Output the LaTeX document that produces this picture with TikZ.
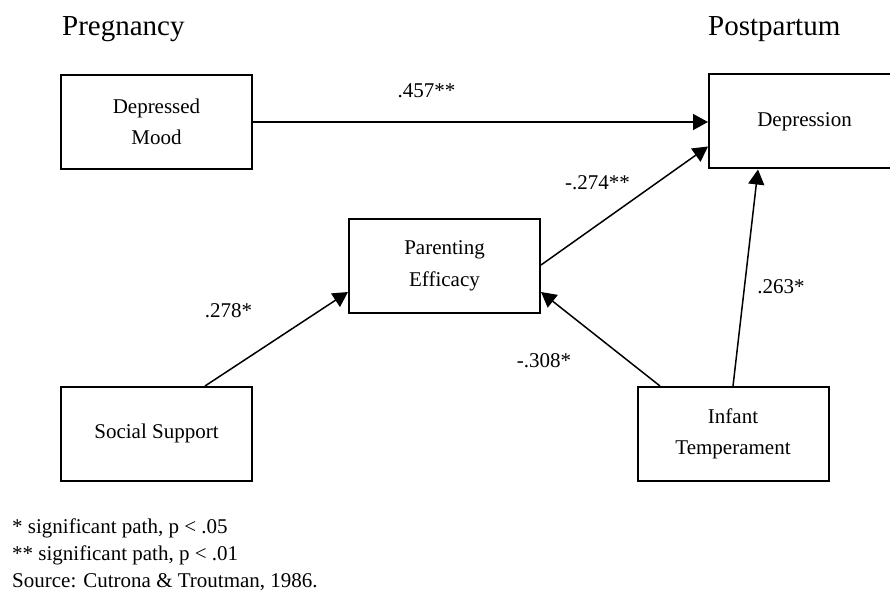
\documentclass[tikz,border=0pt]{standalone}
\usepackage{fontspec}
\setmainfont{Liberation Serif}
\usetikzlibrary{arrows.meta}
\tikzset{
  varbox/.style={draw=black, line width=2pt, minimum width=191pt, minimum height=94pt,
    inner sep=0pt, align=center, font=\fontsize{21}{31.5}\selectfont},
  path/.style={line width=1.5pt, -{Triangle[length=15pt,width=16pt]}},
  coef/.style={anchor=base, inner sep=0pt, font=\fontsize{21}{25}\selectfont},
  title/.style={anchor=base west, inner sep=0pt, font=\fontsize{29}{34}\selectfont},
  note/.style={anchor=base west, inner sep=0pt, font=\fontsize{21}{25}\selectfont}
}
\begin{document}
\begin{tikzpicture}[x=1pt,y=1pt]
\useasboundingbox (0,0) rectangle (890,590);
\clip (0,0) rectangle (890,590);
% titles
\node[title] (preg) at (62,554) {Pregnancy};
\node[title] (post) at (708,554) {Postpartum};
% boxes
\node[varbox] (dm) at (156.5,468) {Depressed\\Mood};
\node[varbox] (dep) at (804.5,468.5) {\raisebox{-4pt}{Depression}};
\node[varbox] (pe) at (444.5,324) {Parenting\\Efficacy};
\node[varbox] (ss) at (156.5,156) {\raisebox{6pt}{Social Support}};
\node[varbox] (it) at (733,156) {Infant\\Temperament};
% paths
\draw[path] (dm.east) -- (dep.west |- dm.east);
\draw[path] ([yshift=1pt]pe.east) -- ([yshift=-25pt]dep.west);
\draw[path] ([xshift=48.5pt]ss.north) -- ([yshift=-26pt]pe.west);
\draw[path] ([xshift=-73pt]it.north) -- ([yshift=-26pt]pe.east);
\draw[path] (it.north) -- ([xshift=-46.5pt]dep.south);
% coefficients
\node[coef] (c1) at (426.5,492) {.457**};
\node[coef] (c2) at (597.5,400) {-.274**};
\node[coef] (c3) at (228.5,273) {.278*};
\node[coef] (c4) at (544,223) {-.308*};
\node[coef] (c5) at (781,297) {.263*};
% notes
\node[note] (n1) at (12,57) {* significant path, p < .05};
\node[note] (n2) at (12,30) {** significant path, p < .01};
\node[note] (n3) at (12,3) {Source: Cutrona \& Troutman, 1986.};
\end{tikzpicture}
\end{document}
